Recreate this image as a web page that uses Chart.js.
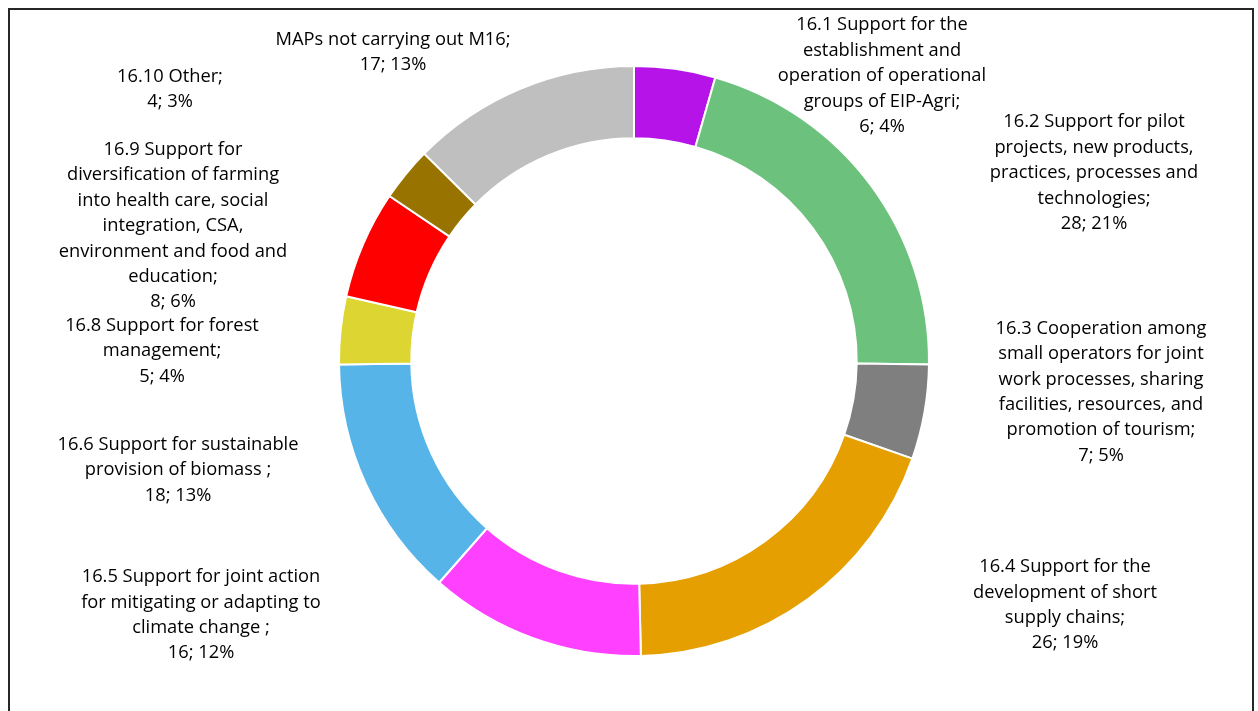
<!DOCTYPE html>
<html>
<head>
<meta charset="utf-8">
<script src="https://cdn.jsdelivr.net/npm/chart.js@4.4.1/dist/chart.umd.min.js"></script>
<style>
  html, body { margin: 0; padding: 0; background: #fff; }
  #wrap { position: relative; width: 1258px; height: 711px; overflow: hidden; }
  #frame { position: absolute; left: 8px; top: 8px; width: 1246px; height: 720px; border: 2px solid #262626; box-sizing: border-box; }
  canvas { position: absolute; left: 0; top: 0; }
</style>
</head>
<body>
<div id="wrap">
  <div id="frame"></div>
  <canvas id="m16Chart" width="1258" height="711"></canvas>
</div>
<script>
// M16 sub-measures, each name split into the lines it wraps to
const categories = [
  ["16.1 Support for the", "establishment and", "operation of operational", "groups of EIP-Agri"],
  ["16.2 Support for pilot", "projects, new products,", "practices, processes and", "technologies"],
  ["16.3 Cooperation among", "small operators for joint", "work processes, sharing", "facilities, resources, and", "promotion of tourism"],
  ["16.4 Support for the", "development of short", "supply chains"],
  ["16.5 Support for joint action", "for mitigating or adapting to", "climate change "],
  ["16.6 Support for sustainable", "provision of biomass "],
  ["16.8 Support for forest", "management"],
  ["16.9 Support for", "diversification of farming", "into health care, social", "integration, CSA,", "environment and food and", "education"],
  ["16.10 Other"],
  ["MAPs not carrying out M16"]
];
const counts = [6, 28, 7, 26, 16, 18, 5, 8, 4, 17];
const colors = ["#B513E8", "#6CC27C", "#7F7F7F", "#E69F00", "#FF40FF", "#56B4E9", "#DDD531", "#FF0000", "#997300", "#BFBFBF"];

// where each label block sits, relative to the doughnut centre
const labelOffsets = [
  [248, -285], [460, -188], [467, 31], [431, 244], [-433, 254],
  [-456, 109], [-472, -10], [-461, -135], [-464, -272], [-241, -309]
];

const FONT = "18.3px 'Open Sans', sans-serif";
const LINE_H = 25.4;

const outsideLabels = {
  id: "outsideLabels",
  afterDatasetsDraw(chart) {
    const ctx = chart.ctx;
    const arcs = chart.getDatasetMeta(0).data;
    const cx = arcs[0].x, cy = arcs[0].y;
    const total = counts.reduce((a, b) => a + b, 0);
    ctx.save();
    ctx.font = FONT;
    ctx.fillStyle = "#000";
    ctx.textAlign = "center";
    ctx.textBaseline = "middle";
    categories.forEach((name, i) => {
      const lines = name.slice();
      lines[lines.length - 1] += ";";
      lines.push(counts[i] + "; " + Math.round(counts[i] / total * 100) + "%");
      const x = cx + labelOffsets[i][0];
      const y0 = cy + labelOffsets[i][1] - (lines.length - 1) * LINE_H / 2;
      lines.forEach((t, k) => ctx.fillText(t, x, y0 + k * LINE_H));
    });
    ctx.restore();
  }
};

new Chart(document.getElementById("m16Chart"), {
  type: "doughnut",
  data: {
    labels: categories,
    datasets: [{
      data: counts,
      backgroundColor: colors,
      borderColor: "#fff",
      borderWidth: 2
    }]
  },
  options: {
    responsive: false,
    animation: false,
    cutout: "75.5%",
    layout: { padding: { left: 337, right: 327, top: 65, bottom: 54 } },
    plugins: {
      legend: { display: false },
      tooltip: { enabled: false }
    }
  },
  plugins: [outsideLabels]
});
</script>
</body>
</html>
